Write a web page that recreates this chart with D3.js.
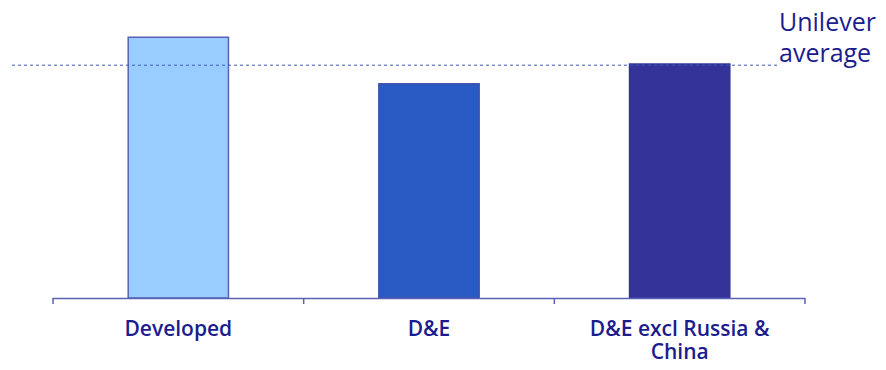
<!DOCTYPE html>
<html>
<head>
<meta charset="utf-8">
<script src="https://cdn.jsdelivr.net/npm/d3@7"></script>
<style>
  body { margin: 0; background: #fff; }
  svg { display: block; }
  text { font-family: "Open Sans", sans-serif; fill: #1c1c8f; }
</style>
</head>
<body>
<svg width="886" height="370"></svg>
<script>
// index vs Unilever average (=100)
const categories = ['Developed', 'D&E', 'D&E excl Russia & China'];
const values = [112, 92, 100.5];
const average = 100;
const fills = ['#99ccff', '#2a5bc4', '#333399'];
const strokes = ['#5a62b4', '#3a4fb0', '#333399'];

const svg = d3.select('svg');
const left = 53, axisW = 752;
const baseY = 298;

const x = d3.scaleBand()
  .domain(categories)
  .range([left, left + axisW])
  .paddingInner(0.6)
  .paddingOuter(0.3);

const y = d3.scaleLinear()
  .domain([0, 128])
  .range([baseY, 0]);

// bars
svg.selectAll('.bar')
  .data(categories)
  .join('rect')
  .attr('class', 'bar')
  .attr('x', d => x(d))
  .attr('width', x.bandwidth())
  .attr('y', (d, i) => y(values[i]))
  .attr('height', (d, i) => baseY - y(values[i]))
  .attr('fill', (d, i) => fills[i])
  .attr('stroke', (d, i) => strokes[i])
  .attr('stroke-width', 1.5);

// average line
svg.append('line')
  .attr('x1', 12)
  .attr('x2', 780)
  .attr('y1', y(average))
  .attr('y2', y(average))
  .attr('stroke', '#3a5bb8')
  .attr('stroke-width', 1)
  .attr('stroke-dasharray', '3,3');

svg.append('text')
  .attr('x', 779)
  .attr('y', 31)
  .attr('font-size', 25)
  .text('Unilever');
svg.append('text')
  .attr('x', 779)
  .attr('y', 62)
  .attr('font-size', 25)
  .text('average');

// x axis with boundary ticks
const axisG = svg.append('g');
axisG.append('line')
  .attr('x1', left).attr('x2', left + axisW)
  .attr('y1', baseY + 0.5).attr('y2', baseY + 0.5)
  .attr('stroke', '#5a62b4').attr('stroke-width', 1.5);

const edges = d3.range(categories.length + 1).map(i => left + i * axisW / categories.length);
axisG.selectAll('.tick')
  .data(edges)
  .join('line')
  .attr('x1', d => d).attr('x2', d => d)
  .attr('y1', baseY).attr('y2', baseY + 6)
  .attr('stroke', '#5a62b4').attr('stroke-width', 1.5);

// category labels
const labelLines = { 'D&E excl Russia & China': ['D&E excl Russia &', 'China'] };
const lab = svg.selectAll('.lab')
  .data(categories)
  .join('text')
  .attr('class', 'lab')
  .attr('text-anchor', 'middle')
  .attr('font-size', 21)
  .attr('font-weight', 600)
  .attr('y', 336);
lab.each(function(d) {
  const lines = labelLines[d] || [d];
  const cx = x(d) + x.bandwidth() / 2;
  d3.select(this).selectAll('tspan')
    .data(lines)
    .join('tspan')
    .attr('x', cx)
    .attr('dy', (l, i) => i === 0 ? 0 : 23)
    .text(l => l);
});
</script>
</body>
</html>
